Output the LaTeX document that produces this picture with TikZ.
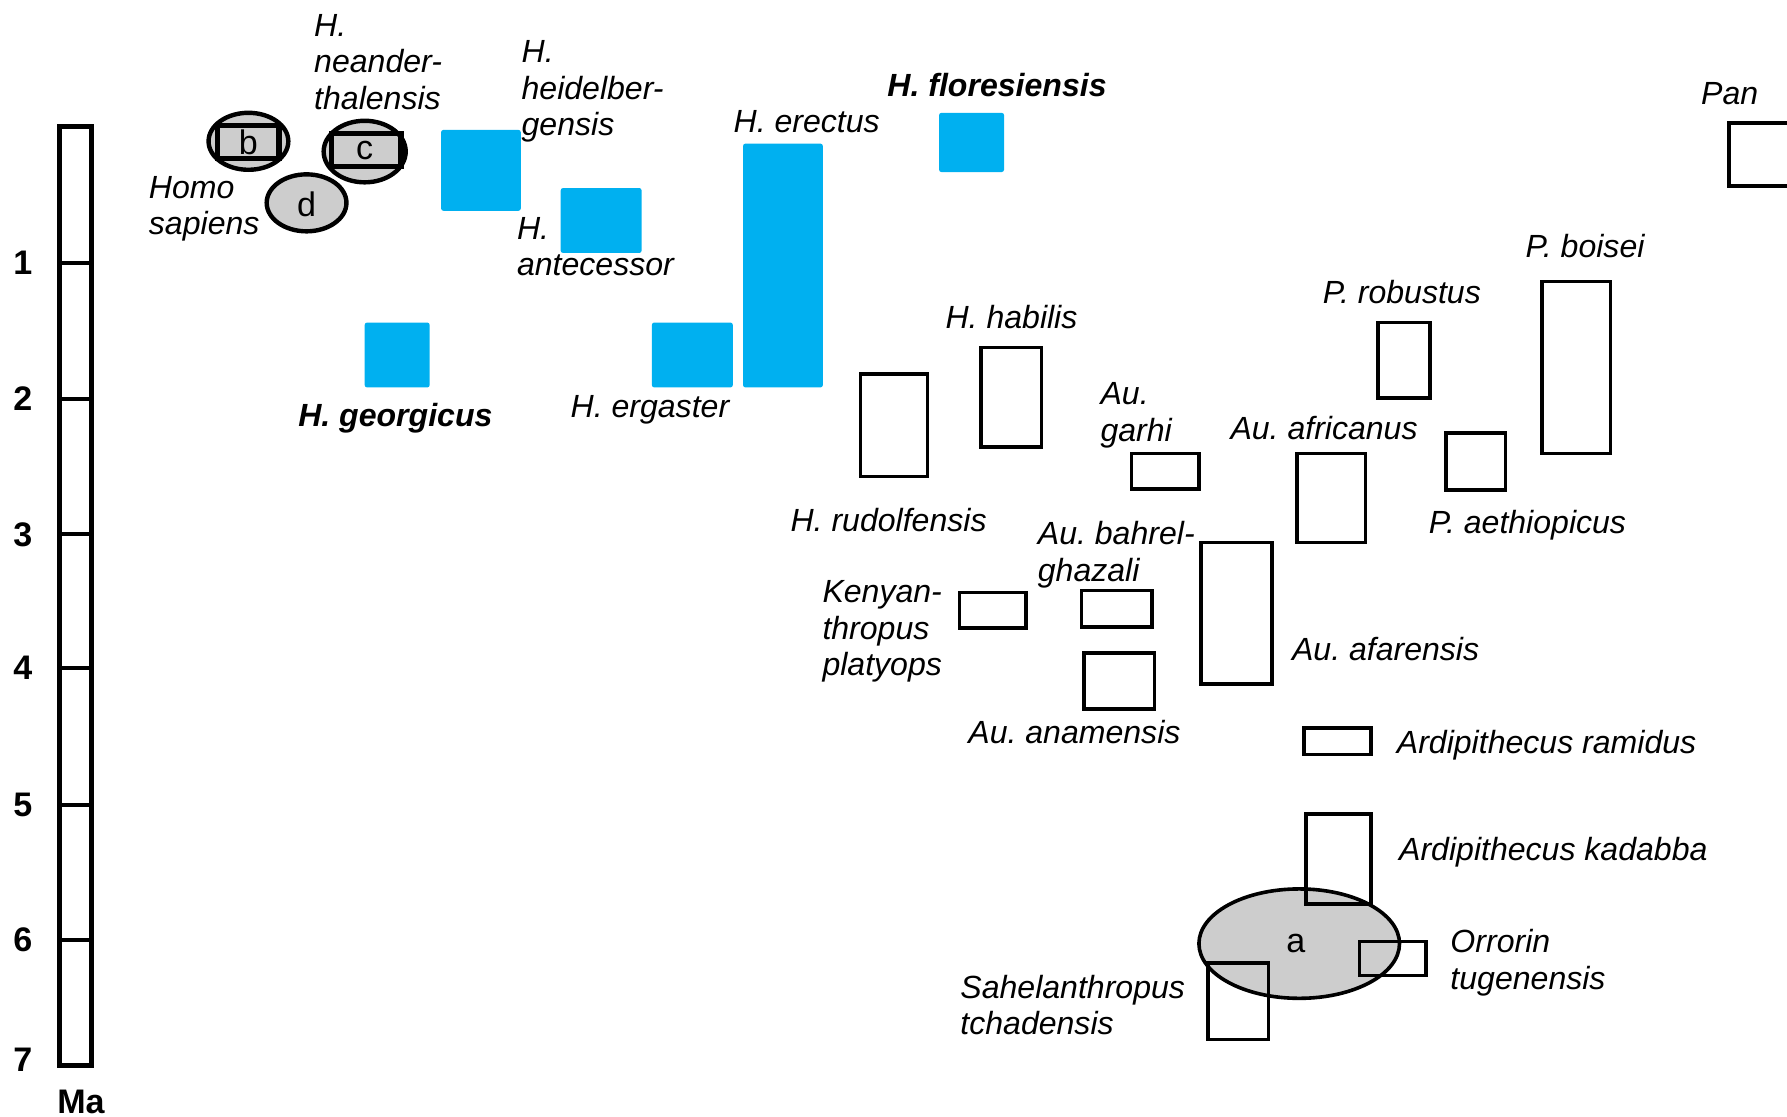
\documentclass[tikz,border=0pt]{standalone}
\usepackage{fontspec}
\setmainfont{Liberation Sans}
\frenchspacing
\definecolor{fossilblue}{RGB}{0,176,240}
\definecolor{zonegray}{RGB}{205,205,205}
\tikzset{
	taxon/.style={draw=black, line width=0.9pt},
	fossil/.style={fill=fossilblue, rounded corners=0.6pt},
	zone/.style={draw=black, line width=0.9pt, fill=zonegray},
	spname/.style={inner sep=0pt, anchor=base west, font=\fontsize{8}{9.1}\selectfont\itshape},
	spnames/.style={inner sep=0pt, anchor=north west, align=left, font=\fontsize{8}{9.1}\selectfont\itshape},
	spbold/.style={spname, font=\fontsize{8}{9.1}\selectfont\bfseries\itshape},
	agelabel/.style={inner sep=0pt, font=\fontsize{8.5}{10}\selectfont\bfseries},
	zonelabel/.style={inner sep=0pt, font=\fontsize{8.5}{9}\selectfont},
}
\begin{document}
\begin{tikzpicture}[x=0.01cm, y=-0.01cm, line join=miter]
	\useasboundingbox (0,0) rectangle (1568,980);
	% time scale
	\draw[line width=1.2pt] (52,111) rectangle (80,935);
	\foreach \m/\y in {1/231,2/350,3/469,4/586,5/706,6/825} {
			\draw[line width=1pt] (52,\y) -- (80,\y);
			\node[agelabel] (ma\m) at (20,\y) {\m};
		}
	\node[agelabel] (ma7) at (20,930) {7};
	\node[agelabel] (ma) at (71,967) {Ma};
	% grey zones
	\draw[zone] (1140,828) ellipse (88 and 48);
	\node[zonelabel] (za) at (1137,828) {a};
	\draw[zone, line width=1.1pt] (218,124) ellipse (35 and 25);
	\draw[zone, line width=1.1pt] (320,133) ellipse (36 and 27);
	\draw[zone, line width=1.1pt] (269,178) ellipse (35 and 25);
	\draw[line width=1.4pt] (191,110) rectangle (245,139);
	\draw[line width=1.4pt] (291,117) rectangle (352,146);
	\node[zonelabel] (zb) at (218,125) {b};
	\node[zonelabel] (zc) at (320,132) {c};
	\node[zonelabel] (zd) at (269,179) {d};
	% new finds
	\foreach \xa/\ya/\xb/\yb in {387/114/457/185, 492/165/563/222, 320/283/377/340,
			572/283/643/340, 652/126/722/340, 824/99/881/151}
		\fill[fossil] (\xa,\ya) rectangle (\xb,\yb);
	% ranges
	\foreach \xa/\ya/\xb/\yb in {1517/108/1580/163, 755/328/814/418, 861/305/914/392,
			993/398/1052/429, 1138/398/1198/476, 1209/283/1255/349,
			1269/380/1321/430, 1353/247/1413/398, 1054/476/1116/600,
			949/518/1011/550, 842/520/900/551, 951/573/1013/622,
			1144/639/1203/662, 1146/714/1203/793, 1193/826/1251/856,
			1060/845/1113/912}
		\draw[taxon] (\xa,\ya) rectangle (\xb,\yb);
	% names
	\node[spnames] (neand) at (275,12) {H.\\neander-\\thalensis};
	\node[spnames] (heidel) at (457,35) {H.\\heidelber-\\gensis};
	\node[spnames] (sapiens) at (130,154) {Homo\\sapiens};
	\node[spnames] (antec) at (453,190) {H.\\antecessor};
	\node[spbold] (georg) at (261,374) {H. georgicus};
	\node[spname] (ergast) at (500,366) {H. ergaster};
	\node[spname] (erect) at (643,116) {H. erectus};
	\node[spbold] (flores) at (778,85) {H. floresiensis};
	\node[spname] (pan) at (1492,92) {Pan};
	\node[spname] (rudolf) at (693,466) {H. rudolfensis};
	\node[spname] (habil) at (829,288) {H. habilis};
	\node[spnames] (garhi) at (965,335) {Au.\\garhi};
	\node[spname] (afric) at (1079,386) {Au. africanus};
	\node[spname] (robust) at (1160,266) {P. robustus};
	\node[spname] (aethiop) at (1253,468) {P. aethiopicus};
	\node[spname] (boisei) at (1338,226) {P. boisei};
	\node[spnames] (bahrel) at (910,457) {Au. bahrel-\\ghazali};
	\node[spnames] (kenyan) at (721,509) {Kenyan-\\thropus\\platyops};
	\node[spname] (afar) at (1133,580) {Au. afarensis};
	\node[spname] (anam) at (849,652) {Au. anamensis};
	\node[spname] (ramid) at (1225,661) {Ardipithecus ramidus};
	\node[spname] (kadab) at (1227,755) {Ardipithecus kadabba};
	\node[spnames] (orror) at (1272,815) {Orrorin\\tugenensis};
	\node[spnames] (sahel) at (842,855) {Sahelanthropus\\tchadensis};
\end{tikzpicture}
\end{document}
